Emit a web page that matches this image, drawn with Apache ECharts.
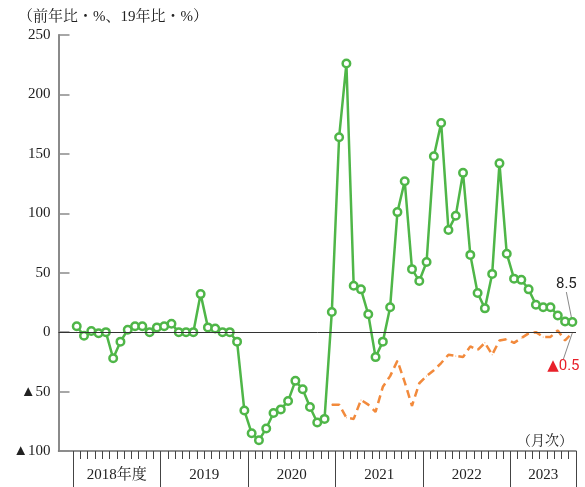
<!DOCTYPE html>
<html>
<head>
<meta charset="utf-8">
<script src="https://cdn.jsdelivr.net/npm/echarts@6/dist/echarts.min.js"></script>
<style>
html,body{margin:0;padding:0;background:#fff;}
#c{width:585px;height:487px;}
</style>
</head>
<body>
<div id="c"></div>
<script>
// ---- data ----
const fiscalYearLabels = ['2018年度', '2019', '2020', '2021', '2022', '2023'];
const monthsInYear = [12, 12, 12, 12, 12, 9];
// 前年比 (%), monthly from 2018年4月
const yoy = [
  5, -3, 1, -1, 0, -22, -8, 2, 5, 5, 0, 4,
  5, 7, 0, 0, 0, 32, 4, 3, 0, 0, -8, -66,
  -85, -91, -81, -68, -65, -58, -41, -48, -63, -76, -73, 17,
  164, 226, 39, 36, 15, -21, -8, 21, 101, 127, 53, 43,
  59, 148, 176, 86, 98, 134, 65, 33, 20, 49, 142, 66,
  45, 44, 36, 23, 21, 21, 14, 9, 8.5
];
// 19年比 (%), starts at month index 35
const vs2019Start = 35;
const vs2019 = [
  -61, -61, -72, -73, -57, -61, -67, -46, -37, -24, -42, -62,
  -43, -37, -32, -26, -19, -20, -21, -12, -15, -9, -19, -7,
  -6, -9, -5, -1, 0, -4, -4, 1.5, -7, -0.5
];
const yTicks = { min: -100, max: 250, interval: 50 };

// ---- build ----
const pad = 2; // empty month slots left of the first fiscal year
const categories = [];
const yearStarts = [];
for (let i = 0; i < pad; i++) categories.push('');
let cum = 0;
const yearCenters = [];
fiscalYearLabels.forEach((fy, k) => {
  yearStarts.push(cum);
  yearCenters.push({ v: cum + monthsInYear[k] / 2, label: fy });
  for (let m = 0; m < monthsInYear[k]; m++) categories.push(fy + '-' + (m + 1));
  cum += monthsInYear[k];
});
const totalMonths = cum;
const yoyData = [];
for (let i = 0; i < pad; i++) yoyData.push(null);
yoy.forEach((v, i) => {
  if (i === yoy.length - 1) {
    yoyData.push({ value: v, label: { show: true }, labelLine: { show: true } });
  } else yoyData.push(v);
});
const vsData = [];
for (let i = 0; i < pad + vs2019Start; i++) vsData.push(null);
vs2019.forEach((v, i) => {
  if (i === vs2019.length - 1) {
    vsData.push({ value: v, label: { show: true }, labelLine: { show: true } });
  } else vsData.push(v);
});
const lastIdx = pad + totalMonths - 1;
const yearStartSet = new Set(yearStarts.map(s => s + pad));
const fmtTri = v => (v < 0 ? '▲' + Math.abs(v) : String(v));

const serif = "'Liberation Serif','Noto Serif CJK JP','Noto Sans CJK JP',serif";
const sans = "Roboto,'DejaVu Sans',sans-serif";
const GREEN = '#4fb648';
const ORANGE = '#f28a3c';

const chart = echarts.init(document.getElementById('c'), null, { renderer: 'canvas' });
chart.setOption({
  animation: false,
  backgroundColor: '#fff',
  title: [
    { text: '（前年比・%、19年比・%）', left: 13, top: 5,
      textStyle: { fontSize: 15, fontWeight: 'normal', color: '#222', fontFamily: serif } },
    { text: '（月次）', right: 7, top: 429,
      textStyle: { fontSize: 14, fontWeight: 'normal', color: '#222', fontFamily: serif } }
  ],
  grid: { left: 58.5, right: 9, top: 35, bottom: 36, outerBoundsMode: 'none', containLabel: false },
  xAxis: [
    { type: 'category', data: categories, boundaryGap: true, position: 'bottom',
      axisLine: { show: true, onZero: false, lineStyle: { color: '#6e6e6e', width: 1.5 } },
      axisTick: { show: true, length: 8, interval: (i) => i >= pad, lineStyle: { color: '#444', width: 1 } },
      axisLabel: { show: false }, splitLine: { show: false } },
    { type: 'category', data: categories, boundaryGap: true, position: 'bottom',
      axisLine: { show: false, onZero: false },
      axisTick: { show: true, length: 36, interval: (i) => yearStartSet.has(i), lineStyle: { color: '#444', width: 1 } },
      axisLabel: { show: false }, splitLine: { show: false } },
    { type: 'value', min: -pad, max: totalMonths, interval: 0.5, position: 'bottom',
      axisLine: { show: false, onZero: false }, axisTick: { show: false }, splitLine: { show: false },
      axisLabel: { show: true, margin: 17, fontSize: 15, color: '#222', fontFamily: serif,
        formatter: (v) => { const c = yearCenters.find(y => Math.abs(y.v - v) < 1e-6); return c ? c.label : ''; } } }
  ],
  yAxis: {
    type: 'value', min: yTicks.min, max: yTicks.max, interval: yTicks.interval,
    axisLine: { show: true, onZero: false, lineStyle: { color: '#8a8a8a', width: 2 } },
    axisTick: { show: true, inside: true, length: 11, lineStyle: { color: '#8a8a8a', width: 1.5 } },
    axisLabel: { fontSize: 15, color: '#222', fontFamily: serif, margin: 8, formatter: fmtTri },
    splitLine: { show: false }
  },
  series: [
    { name: '19年比', type: 'line', xAxisIndex: 0, data: vsData, showSymbol: true, showAllSymbol: true,
      symbol: 'circle', symbolSize: 1, itemStyle: { color: ORANGE },
      lineStyle: { color: ORANGE, width: 2.5, type: [8, 5] },
      label: { show: false, position: 'bottom', distance: 4, color: '#e8202a', fontSize: 15, fontFamily: sans,
        formatter: (p) => fmtTri(p.value) },
      labelLine: { lineStyle: { color: '#888', width: 1 } },
      labelLayout: (p) => (p.dataIndex === lastIdx ? { dx: -9, dy: 22 } : {}),
      emphasis: { disabled: true }, z: 2 },
    { name: '前年比', type: 'line', xAxisIndex: 0, data: yoyData, showSymbol: true, showAllSymbol: true,
      symbol: 'circle', symbolSize: 7.5, itemStyle: { color: '#fff', borderColor: GREEN, borderWidth: 2.5 },
      lineStyle: { color: GREEN, width: 2.5 },
      label: { show: false, position: 'top', distance: 5, color: '#222', fontSize: 15, fontFamily: sans,
        formatter: (p) => fmtTri(p.value) },
      labelLine: { lineStyle: { color: '#888', width: 1 } },
      labelLayout: (p) => (p.dataIndex === lastIdx ? { dx: -6, dy: -20 } : {}),
      markLine: { silent: true, symbol: 'none', label: { show: false },
        lineStyle: { color: '#333', width: 1, type: 'solid' }, data: [{ yAxis: 0 }] },
      emphasis: { disabled: true }, z: 3 }
  ]
});
</script>
</body>
</html>
